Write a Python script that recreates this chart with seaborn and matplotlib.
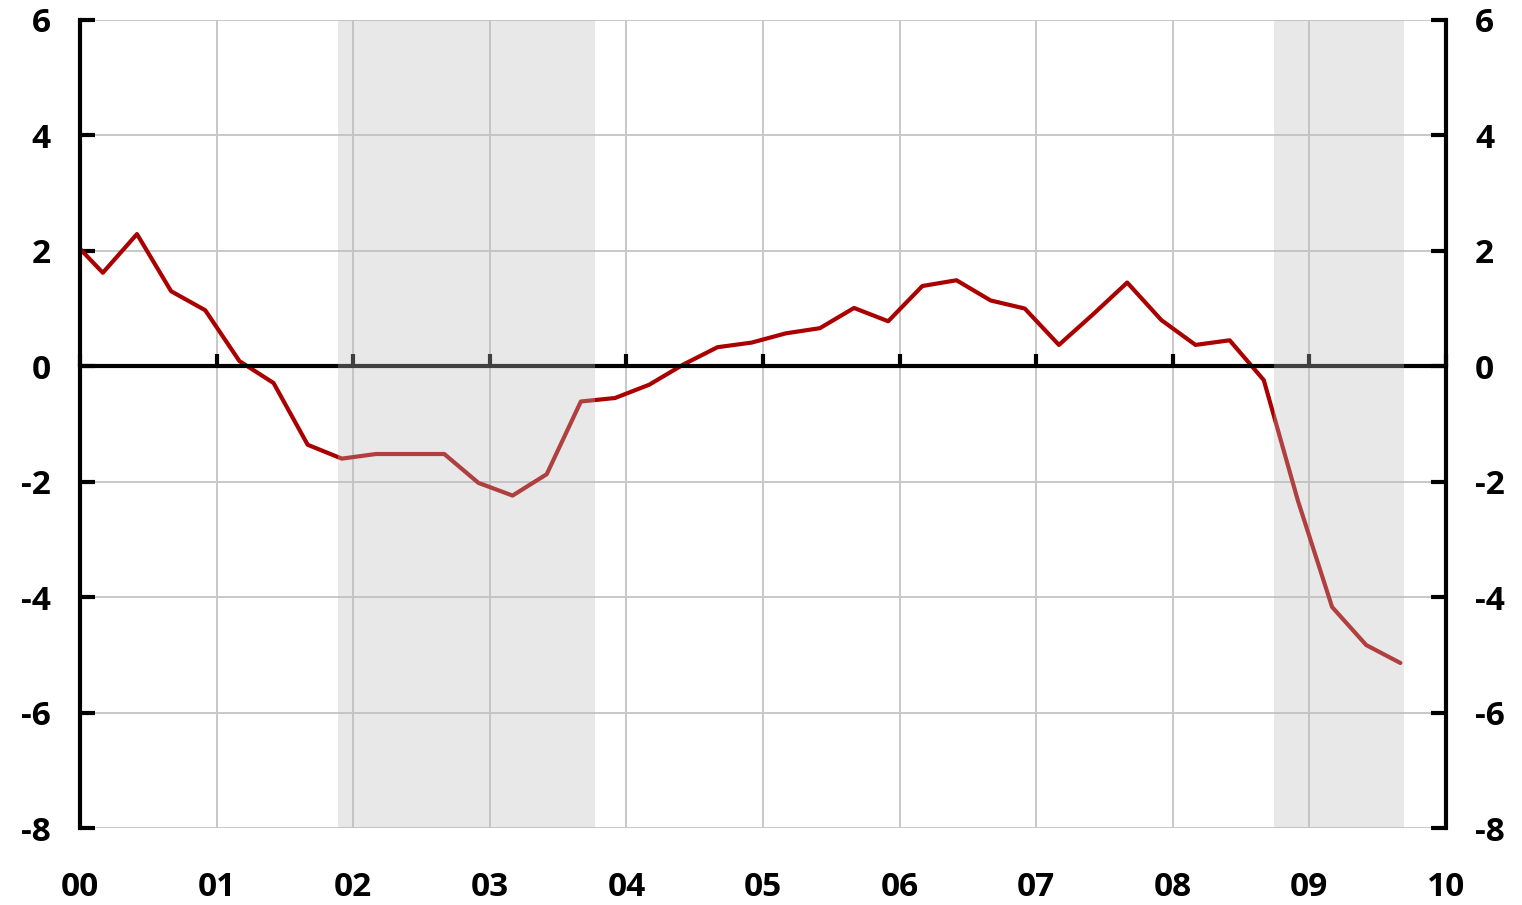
import numpy as np
import pandas as pd
import matplotlib
matplotlib.use("Agg")
import matplotlib.pyplot as plt
import seaborn as sns

# quarterly readings (middle month of each quarter), starts Nov 1999
months = pd.date_range("1999-11-01", periods=40, freq="3MS")
values = [2.24, 1.62, 2.29, 1.30, 0.97, 0.09, -0.29, -1.36, -1.60, -1.52,
          -1.52, -1.52, -2.02, -2.24, -1.87, -0.61, -0.55, -0.32, 0.03, 0.33,
          0.41, 0.57, 0.66, 1.01, 0.78, 1.39, 1.49, 1.14, 1.00, 0.37,
          0.90, 1.45, 0.80, 0.37, 0.45, -0.24, -2.33, -4.17, -4.83, -5.14]

# shaded periods, in years after 2000
recessions = [(1.89, 3.77), (8.74, 9.69)]

year_ticks = list(range(0, 11))
year_labels = ["00", "01", "02", "03", "04", "05", "06", "07", "08", "09", "10"]
y_ticks = [-8, -6, -4, -2, 0, 2, 4, 6]

df = pd.DataFrame({
    "t": (months.year - 2000) + months.month / 12,
    "value": values,
})

sns.set_style("white")
plt.rcParams["font.family"] = ["Open Sans", "DejaVu Sans"]
plt.rcParams["axes.unicode_minus"] = False

fig = plt.figure(figsize=(15.22, 9.05), dpi=100)
ax = fig.add_axes([0.0526, 0.085, 0.8974, 0.893])

sns.lineplot(data=df, x="t", y="value", color="#aa0000", linewidth=3.0, ax=ax, zorder=2)

for a, b in recessions:
    ax.axvspan(a, b, color="#bcbcbc", alpha=0.34, lw=0, zorder=3)

ax.set_xlim(0, 10)
ax.set_ylim(-8, 6)
ax.set_xticks(year_ticks)
ax.set_xticklabels(year_labels)
ax.set_yticks(y_ticks)
ax.set_yticklabels([str(v) for v in y_ticks])
ax.set_xlabel("")
ax.set_ylabel("")

ax.set_axisbelow(True)
ax.grid(True, color="#c8c8c8", linewidth=1.4)

for s in ["top", "bottom"]:
    ax.spines[s].set_visible(False)
for s in ["left", "right"]:
    ax.spines[s].set_visible(True)
    ax.spines[s].set_color("black")
    ax.spines[s].set_linewidth(3)
    ax.spines[s].set_zorder(5)

ax.tick_params(axis="y", left=True, right=True, labelleft=True, labelright=True,
               direction="in", length=11, width=3, color="black", pad=21,
               labelsize=24, labelcolor="black")
ax.tick_params(axis="x", bottom=False, length=0, pad=31, labelsize=24,
               labelcolor="black")
for lab in ax.get_xticklabels() + ax.get_yticklabels():
    lab.set_fontweight("bold")

# zero line with the year ticks
zero = ax.secondary_xaxis((0 - (-8)) / 14)
zero.set_zorder(2.5)
zero.set_xticks(year_ticks)
zero.tick_params(direction="out", length=9, width=3, color="black", labeltop=False,
                 labelbottom=False)
zero.spines["top"].set_linewidth(3)
zero.spines["top"].set_color("black")
zero.spines["bottom"].set_visible(False)

fig.savefig("out.png", dpi=100)
